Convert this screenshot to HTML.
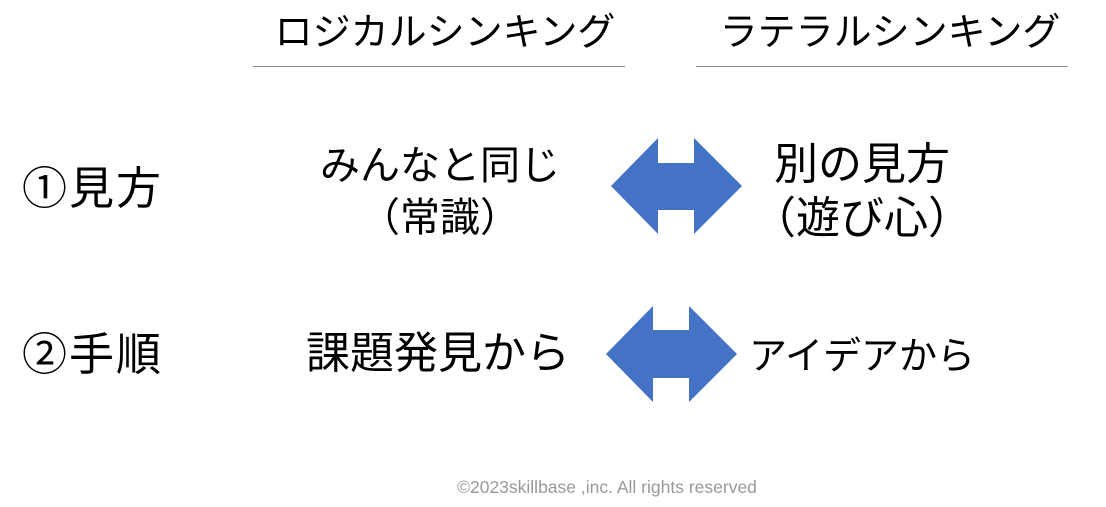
<!DOCTYPE html>
<html><head><meta charset="utf-8"><style>
body{margin:0;width:1106px;height:507px;background:#fff;position:relative;overflow:hidden;font-family:"Liberation Sans","Noto Sans CJK JP",sans-serif;color:#000}
.t{position:absolute;white-space:nowrap;line-height:1;text-align:center}
.l{position:absolute;height:1px;background:#8c8c8c;top:66px}
</style></head><body>
<div class="t" style="left:259px;width:372px;top:14px;font-size:38px">ロジカルシンキング</div>
<div class="t" style="left:704px;width:372px;top:14px;font-size:38px">ラテラルシンキング</div>
<div class="l" style="left:253px;width:372px"></div>
<div class="l" style="left:696px;width:372px"></div>
<div class="t" style="left:22px;top:166px;font-size:45px;text-align:left;letter-spacing:2px">①見方</div>
<div class="t" style="left:22px;top:332px;font-size:45px;text-align:left;letter-spacing:2px">②手順</div>
<div class="t" style="left:300px;width:280px;top:140px;font-size:40px;line-height:52px">みんなと同じ<br>（常識）</div>
<div class="t" style="left:730px;width:264px;top:138px;font-size:44px;line-height:54px">別の見方<br>（遊び心）</div>
<div class="t" style="left:288px;width:300px;top:332px;font-size:44px">課題発見から</div>
<div class="t" style="left:737px;width:250px;top:338px;font-size:38px">アイデアから</div>
<svg style="position:absolute;left:0;top:0" width="1106" height="507">
<polygon fill="#4472c4" points="611,186 658,138 658,163 694,163 694,138 742,186 694,234 694,210 658,210 658,234"/>
<polygon fill="#4472c4" points="606,354 653,306 653,330 689,330 689,306 737,354 689,402 689,378 653,378 653,402"/>
</svg>
<div class="t" style="left:357px;width:500px;top:479px;font-size:17.5px;color:#999">©2023skillbase ,inc. All rights reserved</div>
</body></html>
